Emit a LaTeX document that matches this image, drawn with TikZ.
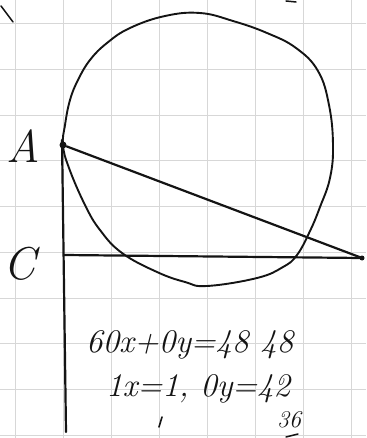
\documentclass[tikz,border=0pt]{standalone}
\usepackage{xcolor}
\usepackage{tikz}
\usetikzlibrary{positioning}
\definecolor{gridgray}{RGB}{215, 215, 215}
\definecolor{inkblack}{RGB}{20, 20, 20}

\begin{document}
\begin{tikzpicture}[
  x=1pt, y=-1pt,
  ink/.style={draw=inkblack, line width=2.2pt, line cap=round, line join=round},
  gridline/.style={draw=gridgray, line width=0.9pt},
  vertexdot/.style={circle, fill=inkblack, inner sep=0pt, minimum size=7pt},
  letter/.style={text=inkblack, font=\fontsize{46}{46}\selectfont\itshape, inner sep=0pt},
  sum/.style={text=inkblack, font=\fontsize{33}{33}\selectfont\itshape, inner sep=0pt}
]
  \useasboundingbox (0,0) rectangle (366,438);
  \fill[white] (0,0) rectangle (366,438);

  % squared paper
  \foreach \gx in {15, 63, 111, 159, 207, 255, 303, 351}
    \draw[gridline] (\gx,0) -- (\gx,438);
  \foreach \gy in {23, 69, 115, 160, 206, 252, 298, 343, 389, 435}
    \draw[gridline] (0,\gy) -- (366,\gy);

  % points
  \coordinate (A) at (63,145);
  \coordinate (C) at (64,255);
  \coordinate (B) at (362,258);
  \coordinate (top) at (62,140);
  \coordinate (foot) at (66,432);

  \node[vertexdot] (Adot) at (A) {};
  \node[vertexdot, minimum size=5pt] (Bdot) at (B) {};

  % labels
  \node[letter] (Alabel) at (23,146) {A};
  \node[letter] (Clabel) at (20,264) {C};

  % axes and hypotenuse
  \draw[ink] (top) -- (foot);
  \draw[ink] (C) -- (B);
  \draw[ink] (Adot) -- (Bdot);

  % the round curve
  \draw[ink, line width=1.9pt] plot[smooth cycle, tension=0.7] coordinates {
    (63,145) (65,125) (70,100) (78,80) (90,60) (107,43) (130,28)
    (165,16) (200,13) (233,21) (267,33) (296,48) (318,71) (329,105)
    (333,145) (330,178) (320,207) (310,231) (297,255) (283,267)
    (257,278) (207,286) (185,282) (157,272) (122,253) (100,230)
    (85,205) (69,168)};

  % stray marks
  \draw[ink, line width=1.5pt] (1,6) -- (13,22);
  \draw[ink, line width=1.5pt] (286,1) -- (296,2);
  \draw[ink, line width=1.6pt] (162,417) -- (159,427);
  \draw[ink, line width=1.5pt] (286,437) -- (298,434);

  % working
  \node[sum, anchor=west] (eqone) at (86,345) {60x+0y=48 48};
  \node[sum, anchor=west] (eqtwo) at (106,389) {1x=1, 0y=42};
  \node[sum, font=\fontsize{24}{24}\selectfont\itshape] (thirtysix) at (289,420) {36};
\end{tikzpicture}
\end{document}
